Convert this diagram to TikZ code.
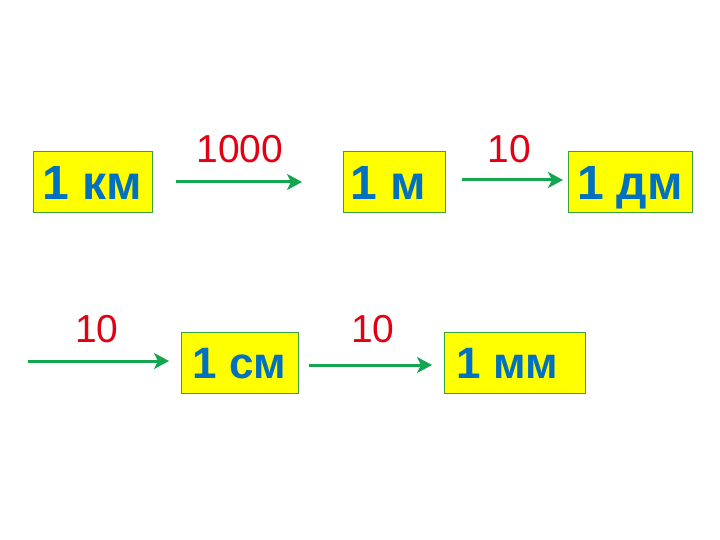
\documentclass[tikz,border=0pt]{standalone}
\usepackage{fontspec}
\setmainfont{Liberation Sans}
\usetikzlibrary{arrows.meta}
\definecolor{boxyellow}{RGB}{255,255,0}
\definecolor{boxgreen}{RGB}{60,160,60}
\definecolor{txtblue}{RGB}{0,112,192}
\definecolor{numred}{RGB}{226,0,20}
\definecolor{arrgreen}{RGB}{20,165,80}
\begin{document}
\begin{tikzpicture}[x=1pt,y=-1pt,
  unitbox/.style={draw=boxgreen, line width=1pt, fill=boxyellow, text=txtblue,
    inner sep=0pt, minimum height=61pt, text height=35pt, text depth=0pt,
    font=\fontsize{48}{48}\selectfont\bfseries},
  unitboxsmall/.style={unitbox, text height=31.5pt, font=\fontsize{44}{44}\selectfont\bfseries},
  factor/.style={text=numred, inner sep=0pt, font=\fontsize{39}{39}\selectfont},
  conv/.style={draw=arrgreen, line width=3pt,
    -{Stealth[length=15pt,width=16pt,inset=4pt]}}
]
\useasboundingbox (0,0) rectangle (720,540);
\fill[white] (0,0) rectangle (720,540);

% boxes
\node[unitbox, minimum width=119pt] (km) at (92.5,182.5) {1 км};
\node[unitbox, minimum width=102pt] (m) at (394,182.5) {1 м\hspace*{12pt}};
\node[unitbox, minimum width=124pt] (dm) at (630,182.5) {1 дм};
\node[unitboxsmall, minimum width=117pt] (cm) at (239.5,362.5) {1 см};
\node[unitboxsmall, minimum width=141pt] (mm) at (514.5,362.5) {1 мм\hspace*{14pt}};

% factors
\node[factor] (f1) at (240,149) {1000};
\node[factor] (f2) at (509,149) {10};
\node[factor] (f3) at (97,329) {10};
\node[factor] (f4) at (373,329) {10};

% arrow end points
\coordinate (a1s) at (176,182);
\coordinate (a1e) at (302,182);
\coordinate (a2s) at (462,180);
\coordinate (a2e) at (563,180);
\coordinate (a3s) at (28,361);
\coordinate (a3e) at (169,361);
\coordinate (a4s) at (309,365);
\coordinate (a4e) at (432,365);

\draw[conv] (a1s) -- (a1e);
\draw[conv] (a2s) -- (a2e);
\draw[conv] (a3s) -- (a3e);
\draw[conv] (a4s) -- (a4e);
\end{tikzpicture}
\end{document}
